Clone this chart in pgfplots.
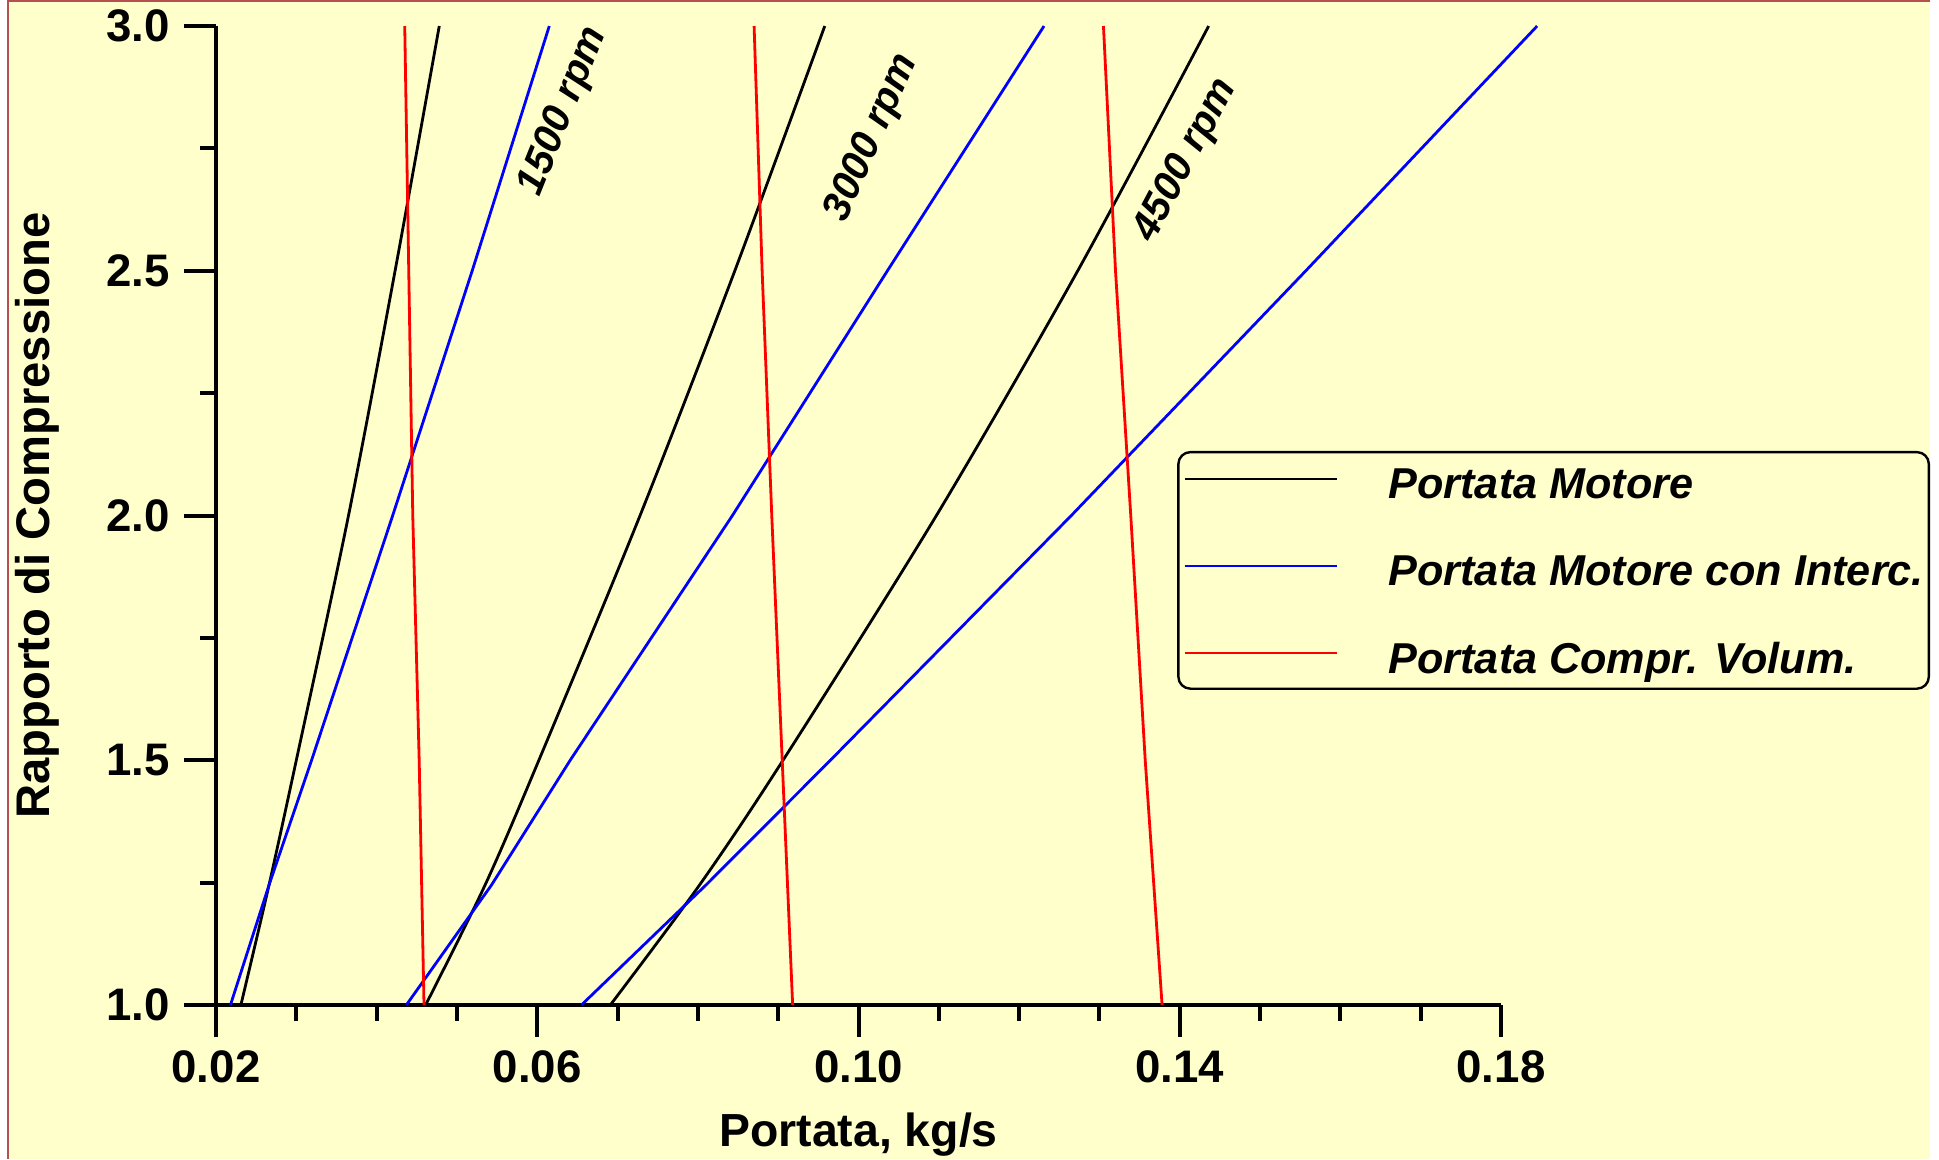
\documentclass[border=0pt]{standalone}
\usepackage{fontspec}
\setmainfont{Liberation Sans}
\usepackage{pgfplots}
\pgfplotsset{compat=1.18}
\definecolor{bgy}{RGB}{255,255,204}
\definecolor{brd}{RGB}{180,80,80}
\definecolor{cblue}{RGB}{0,0,255}
\definecolor{cred}{RGB}{255,0,0}

\begin{document}
\begin{tikzpicture}
\useasboundingbox (0,0) rectangle (484.75pt,289.75pt);
\fill[white] (0,0) rectangle (484.75pt,289.75pt);
\fill[bgy] (2pt,0) rectangle (482.5pt,289.75pt);
\draw[brd, line width=0.5pt] (2pt,0) -- (2pt,289.5pt) -- (482.5pt,289.5pt);
\begin{axis}[
  at={(54pt,38.5pt)}, anchor=south west,
  scale only axis, width=321.25pt, height=244.75pt,
  xmin=0.02, xmax=0.18, ymin=1, ymax=3,
  clip=false,
  axis x line=bottom, axis y line=left,
  axis line style={-, line width=1pt, black},
  xtick={0.02,0.06,0.10,0.14,0.18},
  ytick={1,1.5,2,2.5,3},
  minor x tick num=3, minor y tick num=1,
  tick align=outside,
  major tick length=8pt, minor tick length=4pt,
  tick style={line width=1pt, black},
  scaled x ticks=false,
  /pgf/number format/assume math mode=true,
  xticklabel style={font=\bfseries\fontsize{11.4}{13}\selectfont, /pgf/number format/.cd, fixed, fixed zerofill, precision=2},
  yticklabel style={font=\bfseries\fontsize{11.4}{13}\selectfont, /pgf/number format/.cd, fixed, fixed zerofill, precision=1},
  xlabel={Portata, kg/s},
  xlabel style={at={(axis description cs:0.5,-0.1328)}, anchor=center, font=\bfseries\fontsize{11.6}{13}\selectfont},
  ylabel={Rapporto di Compressione},
  ylabel style={at={(axis description cs:-0.1393,0.5)}, anchor=center, font=\bfseries\fontsize{11.8}{13}\selectfont},
  legend style={at={(axis description cs:0.748,0.566)}, anchor=north west, draw=black, line width=0.6pt,
    rounded corners=3pt, fill=bgy, font=\bfseries\itshape\fontsize{10.8}{13}\selectfont,
    inner xsep=1.25pt, inner ysep=2pt, row sep=10.25pt,
    nodes={inner sep=0pt, text height=9.65pt, text depth=1.9pt}},
  legend cell align=left,
  legend image code/.code={\draw[#1, line width=0.6pt] (0pt,1.1pt) -- (38.1pt,1.1pt); \path[draw=none] (0pt,1.1pt) -- (51pt,1.1pt);},
]
% Portata Motore (black)
\addplot[black, line width=0.7pt, smooth] coordinates {(0.0231,1.0) (0.0266,1.245) (0.0300,1.5) (0.0365,2.0) (0.0423,2.5) (0.0478,3.0)};
\addlegendentry{Portata Motore}
\addplot[black, line width=0.7pt, smooth, forget plot] coordinates {(0.0461,1.0) (0.0535,1.245) (0.0602,1.5) (0.0728,2.0) (0.0846,2.5) (0.0958,3.0)};
\addplot[black, line width=0.7pt, smooth, forget plot] coordinates {(0.0691,1.0) (0.0802,1.245) (0.0906,1.5) (0.1097,2.0) (0.1273,2.5) (0.1436,3.0)};
% Portata Motore con Interc. (blue)
\addplot[cblue, line width=0.7pt] coordinates {(0.0218,1.0) (0.0266,1.245) (0.0319,1.5) (0.0420,2.0) (0.0519,2.5) (0.0615,3.0)};
\addlegendentry{Portata Motore con Interc.}
\addplot[cblue, line width=0.7pt, forget plot] coordinates {(0.0437,1.0) (0.0543,1.245) (0.0641,1.5) (0.0843,2.0) (0.1036,2.5) (0.1231,3.0)};
\addplot[cblue, line width=0.7pt, forget plot] coordinates {(0.0655,1.0) (0.0810,1.245) (0.0965,1.5) (0.1265,2.0) (0.1557,2.5) (0.1845,3.0)};
% Portata Compr. Volum. (red)
\addplot[cred, line width=0.7pt] coordinates {(0.0459,1.0) (0.0453,1.5) (0.0445,2.0) (0.0440,2.5) (0.0435,3.0)};
\addlegendentry{Portata Compr. Volum.}
\addplot[cred, line width=0.7pt, forget plot] coordinates {(0.0918,1.0) (0.0905,1.5) (0.0892,2.0) (0.0880,2.5) (0.0870,3.0)};
\addplot[cred, line width=0.7pt, forget plot] coordinates {(0.1378,1.0) (0.1357,1.5) (0.1339,2.0) (0.1320,2.5) (0.1305,3.0)};
\node[rotate=68, font=\bfseries\itshape\fontsize{10.1}{12}\selectfont] at (axis cs:0.0633,2.826) {1500 rpm};
\node[rotate=66, font=\bfseries\itshape\fontsize{10.1}{12}\selectfont] at (axis cs:0.1017,2.771) {3000 rpm};
\node[rotate=62, font=\bfseries\itshape\fontsize{10.1}{12}\selectfont] at (axis cs:0.1408,2.726) {4500 rpm};
\end{axis}
\end{tikzpicture}
\end{document}
